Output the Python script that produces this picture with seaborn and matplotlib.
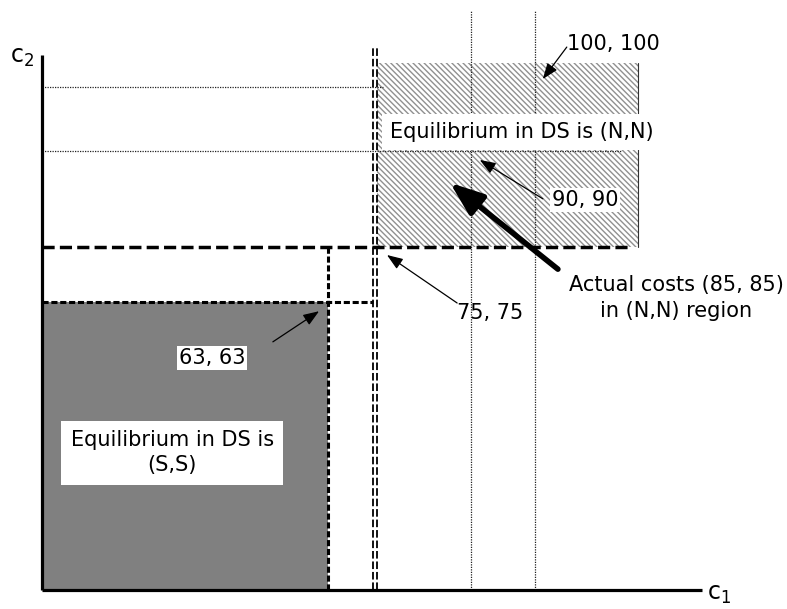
import numpy as np
import pandas as pd
import seaborn as sns
from matplotlib import pyplot as plt
from matplotlib.patches import Rectangle

# diagram values (cost units, c1 on x, c2 on y)
axis_len_x = 148.6
axis_len_y = 117.1
ss_corner = [64.4, 63]          # (S,S) region corner
nn_line = 75                    # threshold for (N,N)
nn_double_x = [74.6, 75.45]
nn_box_x = [75.5, 134.2]
nn_box_y = [75, 115.3]
guide_x = [96.6, 111.0]         # thin dotted verticals
guide_y = [96.1, 110.1]         # thin dotted horizontals
guide_y_end = [76.8, 130.6]
guide_top = 126.9

labels = ['100, 100', '90, 90', '75, 75', '63, 63']
label_xy = [(128.6, 119.4), (122.3, 85.3), (100.9, 60.6), (38.3, 50.8)]
label_box = [False, True, False, True]
arrow_from = [(118.2, 118.8), (112.8, 85.6), (93.5, 62.8), (52.0, 54.3)]
arrow_to = [(112.8, 111.8), (98.6, 94.1), (77.7, 73.3), (62.4, 61.0)]

actual_from = (116.2, 70.2)
actual_to = (91.9, 89.1)

sns.set_style('white')
plt.rcParams['font.family'] = ['DejaVu Sans']
plt.rcParams['text.color'] = 'black'
plt.rcParams['hatch.linewidth'] = 1.0

fig = plt.figure(figsize=(7.87, 6.09), dpi=100)
ax = fig.add_axes([0, 0, 1, 1])
ax.set_xlim(-9.46, 167.8)
ax.set_ylim(-4.16, 129.1)
ax.axis('off')

# regions
ax.add_patch(Rectangle((0, 0), ss_corner[0], ss_corner[1], facecolor='#808080',
                       edgecolor='none', zorder=1))
ax.add_patch(Rectangle((nn_box_x[0], nn_box_y[0]), nn_box_x[1] - nn_box_x[0],
                       nn_box_y[1] - nn_box_y[0], facecolor='white',
                       edgecolor='#909090', hatch='\\' * 6, lw=0, zorder=1))
ax.plot([nn_box_x[1], nn_box_x[1]], nn_box_y, color='#333333', lw=0.8, zorder=1)

# thin dotted guides
for gx in guide_x:
    ax.plot([gx, gx], [0, guide_top], color='#222222', lw=0.9,
            linestyle=(0, (1, 1)), zorder=2)
for gy, ge in zip(guide_y, guide_y_end[::-1]):
    ax.plot([0, ge], [gy, gy], color='#222222', lw=0.9,
            linestyle=(0, (1, 1)), zorder=2)

# (S,S) boundary
ax.plot([0, nn_double_x[0]], [ss_corner[1], ss_corner[1]], color='k', lw=2.2,
        linestyle=(0, (2, 0.9)), zorder=3)
ax.plot([ss_corner[0], ss_corner[0]], [0, nn_line], color='k', lw=2.2,
        linestyle=(0, (2, 0.9)), zorder=3)

# (N,N) boundary
ax.plot([0, 132.4], [nn_line, nn_line], color='k', lw=2.5,
        linestyle=(0, (3.5, 1.5)), zorder=3)
for dx in nn_double_x:
    ax.plot([dx, dx], [0, 118.8], color='k', lw=1.3,
            linestyle=(0, (4.2, 1.6)), zorder=3)

# axes
ax.plot([0, axis_len_x], [0, 0], color='k', lw=2.3, zorder=4,
        solid_capstyle='butt')
ax.plot([0, 0], [0, axis_len_y], color='k', lw=2.3, zorder=4,
        solid_capstyle='butt')
ax.text(-4.5, 116.6, 'c$_2$', fontsize=17, ha='center', va='center')
ax.text(152.5, -0.9, 'c$_1$', fontsize=17, ha='center', va='center')

# region texts
ax.text(108.1, 100.2, 'Equilibrium in DS is (N,N)', fontsize=15, ha='center',
        va='center', zorder=5,
        bbox=dict(facecolor='white', edgecolor='none', boxstyle='square,pad=0.4'))
ax.text(29.3, 30.0, 'Equilibrium in DS is\n(S,S)', fontsize=15, ha='center',
        va='center', linespacing=1.3, zorder=5,
        bbox=dict(facecolor='white', edgecolor='none', boxstyle='square,pad=0.45'))
ax.text(142.8, 63.9, 'Actual costs (85, 85)\nin (N,N) region', fontsize=15,
        ha='center', va='center', linespacing=1.4, zorder=5)

for lab, xy, boxed, a0, a1 in zip(labels, label_xy, label_box, arrow_from, arrow_to):
    bb = dict(facecolor='white', edgecolor='none', boxstyle='square,pad=0.1') if boxed else None
    ax.text(xy[0], xy[1], lab, fontsize=15, ha='center', va='center', zorder=5, bbox=bb)
    ax.annotate('', xy=a1, xytext=a0, zorder=6,
                arrowprops=dict(arrowstyle='-|>,head_length=0.8,head_width=0.3',
                                mutation_scale=12, lw=0.9, color='k',
                                shrinkA=0, shrinkB=0))

ax.annotate('', xy=actual_to, xytext=actual_from, zorder=6,
            arrowprops=dict(arrowstyle='-|>,head_length=1.0,head_width=0.38',
                            mutation_scale=20, lw=4, color='k',
                            shrinkA=0, shrinkB=0))

fig.savefig('out.png', dpi=100)
